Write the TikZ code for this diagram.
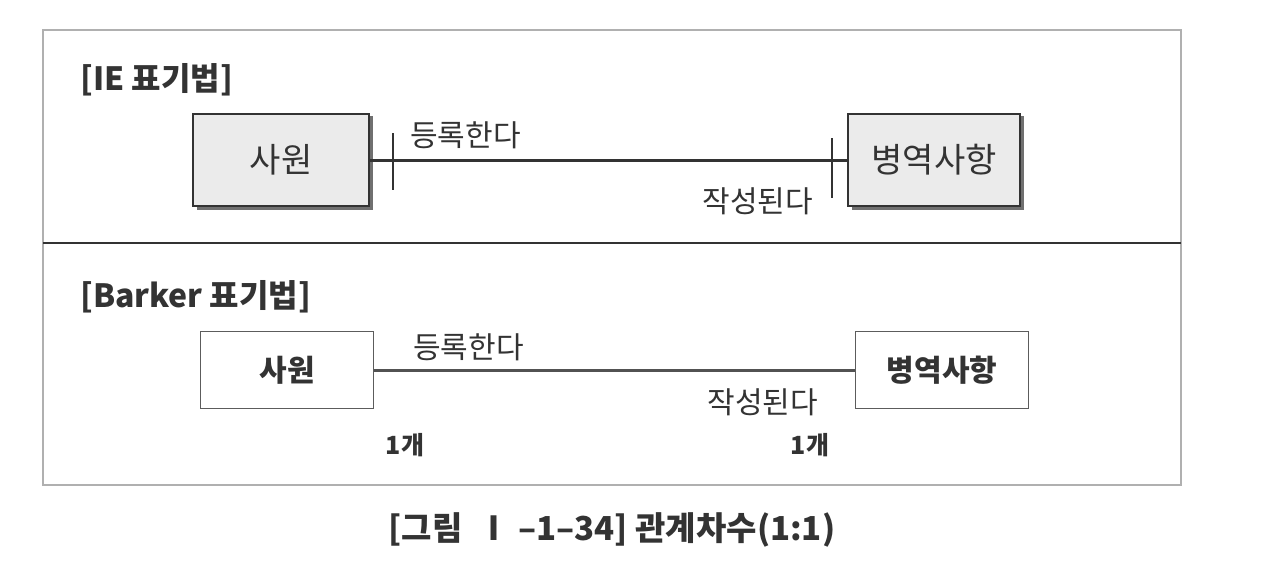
\documentclass[tikz,border=0pt]{standalone}
\usepackage{fontspec}
\setmainfont{Noto Sans CJK KR}
\usetikzlibrary{calc}
\definecolor{ink}{HTML}{333333}
\definecolor{boxfill}{HTML}{EBEBEB}
\definecolor{frame}{HTML}{B0B0B0}
\tikzset{
  iebox/.style={draw=ink, line width=1.8pt, fill=boxfill, minimum width=176, minimum height=92, inner sep=0pt, font=\fontsize{34}{38}\selectfont, text=ink},
  bkbox/.style={draw=ink!80, line width=1.3pt, fill=white, minimum width=173, minimum height=77, inner sep=0pt, font=\fontsize{30}{34}\selectfont\bfseries, text=ink},
  rel/.style={draw=ink, line width=3pt},
  lbl/.style={font=\fontsize{30}{34}\selectfont, text=ink, inner sep=0pt},
  head/.style={font=\fontsize{32}{36}\selectfont\bfseries, text=ink, inner sep=0pt, anchor=west},
  cnt/.style={font=\fontsize{25}{29}\selectfont\bfseries, text=ink, inner sep=0pt},
  tick/.style={draw=ink, line width=1.4pt}
}
\begin{document}
\begin{tikzpicture}[x=1pt,y=-1pt]
\useasboundingbox (0,0) rectangle (1286,584);
\fill[white] (0,0) rectangle (1286,584);
% frame
\draw[frame, line width=1.8pt] (43,30) rectangle (1181,485);
\draw[ink, line width=2.4pt] (43,243) -- (1181,243);
% IE section
\node[head] (iehead) at (80,80) {[IE 표기법]};
\fill[ink!70] (197,116) rectangle (373,210);
\node[iebox] (ie1) at (281,160) {사원};
\fill[ink!70] (852,116) rectangle (1024,210);
\node[iebox, minimum width=172] (ie2) at (934,160) {병역사항};
\draw[rel] (ie1.east) -- (ie2.west);
\coordinate (t1) at ($(ie1.east)+(23,0)$);
\coordinate (t2) at ($(ie2.west)+(-15,0)$);
\draw[tick] ($(t1)+(0,-27)$) -- ($(t1)+(0,30)$);
\draw[tick] ($(t2)+(0,-22)$) -- ($(t2)+(0,38)$);
\node[lbl, anchor=west] (ie1l) at (410,135) {등록한다};
\node[lbl, anchor=east] (ie2l) at (813,201) {작성된다};
% Barker section
\node[head] (bkhead) at (80,297) {[Barker 표기법]};
\node[bkbox] (bk1) at (287,370) {사원};
\node[bkbox] (bk2) at (942,370) {병역사항};
\draw[rel, draw=ink!85, line width=3pt] (bk1.east) -- (bk2.west);
\node[lbl, anchor=west] (bk1l) at (413,347) {등록한다};
\node[lbl, anchor=east] (bk2l) at (818,402) {작성된다};
\node[cnt] (c1) at (405,445) {1개};
\node[cnt] (c2) at (810,445) {1개};
% caption
\node[font=\fontsize{33}{38}\selectfont\bfseries, text=ink, inner sep=0pt] (cap) at (612,530) {[그림 \ Ⅰ –1–34] 관계차수(1:1)};
\end{tikzpicture}
\end{document}
